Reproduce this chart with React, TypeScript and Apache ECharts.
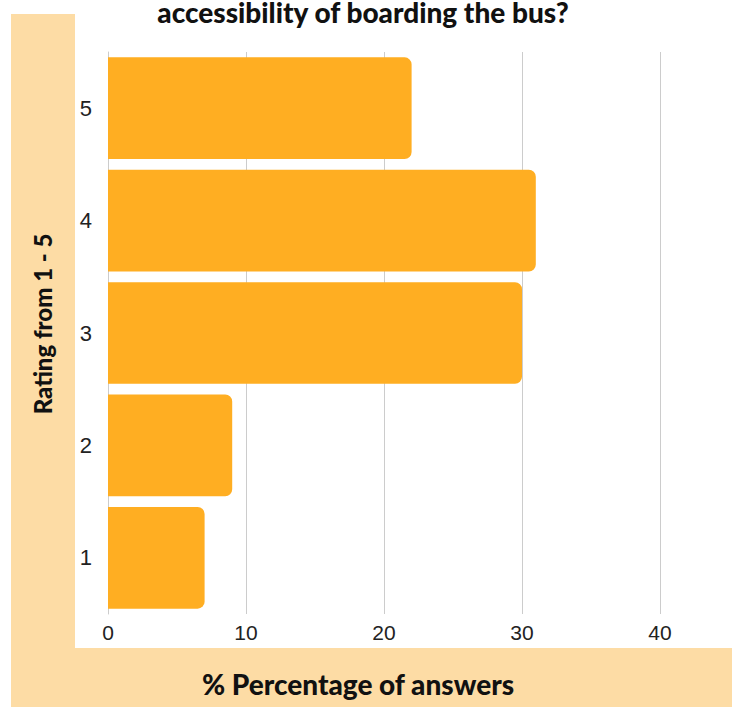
import React, { useEffect, useRef } from "react";
import * as echarts from "echarts";

const categories = ["1", "2", "3", "4", "5"];
const percentages = [7, 9, 30, 31, 22];
const xTicks = [0, 10, 20, 30, 40];
const titleText = "accessibility of boarding the bus?";
const yAxisTitle = "Rating from 1 - 5";
const xAxisTitle = "% Percentage of answers";

export default function App() {
  const ref = useRef<HTMLDivElement>(null);
  useEffect(() => {
    if (!ref.current) return;
    const chart = echarts.init(ref.current, null, { renderer: "svg" });
    chart.setOption({
      animation: false,
      backgroundColor: "#ffffff",
      grid: { left: 108, right: 72, top: 52, bottom: 93 },
      xAxis: {
        type: "value",
        min: xTicks[0],
        max: xTicks[xTicks.length - 1],
        interval: 10,
        axisLine: { show: false },
        axisTick: { show: false },
        splitLine: { show: true, lineStyle: { color: "#cccccc", width: 1 } },
        axisLabel: {
          color: "#222222",
          fontFamily: "Liberation Sans",
          fontSize: 21,
          margin: 8,
        },
      },
      yAxis: {
        type: "category",
        data: categories,
        axisLine: { show: true, lineStyle: { color: "#cccccc", width: 1 } },
        axisTick: { show: false },
        axisLabel: {
          color: "#222222",
          fontFamily: "Liberation Sans",
          fontSize: 22,
          margin: 16,
        },
      },
      series: [
        {
          type: "bar",
          data: percentages,
          barCategoryGap: "9.5%",
          itemStyle: { color: "#FFAE22", borderRadius: [0, 7, 7, 0] },
          z: 3,
        },
      ],
      graphic: [
        {
          type: "rect",
          z: -10,
          silent: true,
          shape: { x: 11, y: 14, width: 64, height: 693 },
          style: { fill: "#FDDCA5" },
        },
        {
          type: "rect",
          z: -10,
          silent: true,
          shape: { x: 11, y: 648, width: 721, height: 59 },
          style: { fill: "#FDDCA5" },
        },
        {
          type: "text",
          x: 363,
          y: 12,
          style: {
            text: titleText,
            fill: "#111111",
            font: "900 28px Lato",
            textAlign: "center",
            textVerticalAlign: "middle",
          },
        },
        {
          type: "text",
          x: 42,
          y: 324,
          rotation: Math.PI / 2,
          style: {
            text: yAxisTitle,
            fill: "#111111",
            font: "900 24px Lato",
            textAlign: "center",
            textVerticalAlign: "middle",
          },
        },
        {
          type: "text",
          x: 358,
          y: 684,
          style: {
            text: xAxisTitle,
            fill: "#111111",
            font: "900 28px Lato",
            textAlign: "center",
            textVerticalAlign: "middle",
          },
        },
      ],
    });
    return () => chart.dispose();
  }, []);
  return (
    <div
      ref={ref}
      style={{ position: "fixed", left: 0, top: 0, width: 732, height: 707 }}
    />
  );
}
